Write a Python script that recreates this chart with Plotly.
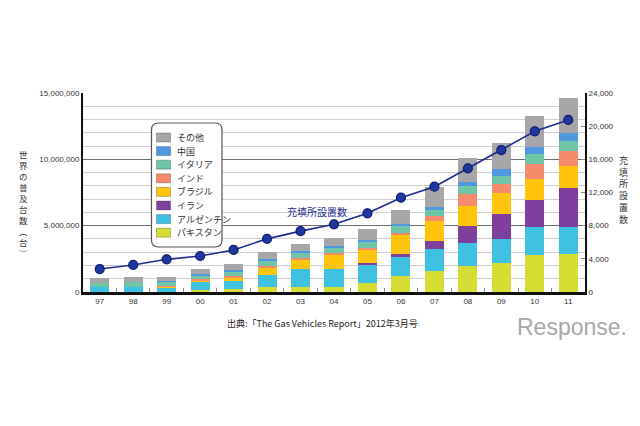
import plotly.graph_objects as go

# ---------------- data ----------------
years = ["97", "98", "99", "00", "01", "02", "03", "04", "05", "06", "07", "08", "09", "10", "11"]

pakistan  = [0, 0, 20000, 170000, 200000, 350000, 380000, 380000, 660000, 1230000, 1580000, 1980000, 2210000, 2810000, 2890000]
argentina = [350000, 380000, 350000, 600000, 650000, 930000, 1330000, 1330000, 1380000, 1390000, 1680000, 1710000, 1790000, 2090000, 1990000]
iran      = [0, 0, 0, 0, 0, 0, 0, 0, 130000, 270000, 600000, 1280000, 1860000, 2010000, 2940000]
brazil    = [0, 0, 50000, 130000, 180000, 500000, 700000, 1050000, 1000000, 1390000, 1510000, 1530000, 1630000, 1610000, 1680000]
india     = [0, 0, 20000, 80000, 170000, 170000, 170000, 200000, 170000, 200000, 350000, 880000, 630000, 1130000, 1130000]
italy     = [300000, 400000, 330000, 300000, 380000, 400000, 430000, 410000, 450000, 500000, 430000, 630000, 630000, 730000, 750000]
china     = [0, 0, 30000, 80000, 80000, 130000, 100000, 90000, 130000, 130000, 250000, 260000, 530000, 570000, 630000]
other     = [380000, 380000, 300000, 350000, 430000, 550000, 500000, 630000, 830000, 1050000, 1480000, 1850000, 1980000, 2310000, 2640000]

stations  = [2770, 3260, 3940, 4340, 5070, 6410, 7340, 8160, 9490, 11370, 12700, 14920, 17120, 19380, 20750]

series_names  = ["パキスタン", "アルゼンチン", "イラン", "ブラジル", "インド", "イタリア", "中国", "その他"]
series_values = [pakistan, argentina, iran, brazil, india, italy, china, other]
series_colors = ["#d5dc34", "#3fc2e2", "#7f3f9c", "#fec50c", "#f68a6c", "#6fc5a6", "#4d98de", "#a7a7a9"]

left_ticks  = [0, 5000000, 10000000, 15000000]
right_ticks = [0, 4000, 8000, 12000, 16000, 20000, 24000]

left_title  = ["世", "界", "の", "普", "及", "台", "数", "︵", "台", "︶"]
right_title = ["充", "填", "所", "設", "置", "数"]
line_label  = "充填所設置数"
caption     = "出典:「The Gas Vehicles Report」2012年3月号"

# ---------------- layout helpers ----------------
W, H = 640, 426
L, R, T, B = 83, 55, 93, 134
PW, PH = W - L - R, H - T - B
FONT = "Liberation Sans, Arial, Noto Sans CJK JP, sans-serif"
JFONT = "Noto Sans CJK JP, sans-serif"
NAVY = "#1d2b8f"


def px(x):
    return (x - L) / PW


def py(y):
    return (T + PH - y) / PH


fig = go.Figure()

for name, vals, col in zip(series_names, series_values, series_colors):
    fig.add_trace(go.Bar(
        x=years, y=vals, name=name,
        marker=dict(color=col, line=dict(width=0)),
        showlegend=False,
    ))

fig.add_trace(go.Scatter(
    x=years, y=stations, yaxis="y2", mode="lines+markers",
    line=dict(color=NAVY, width=1.6),
    marker=dict(size=9, color="#1f38a0", line=dict(color="#0d1b6b", width=1.2)),
    showlegend=False,
))

shapes = []
annotations = []

# rounded legend box
x0, x1, y0, y1, r = 151.5, 222.0, 123.0, 247.0, 7.0
path = (
    f"M {px(x0 + r)} {py(y0)} L {px(x1 - r)} {py(y0)} "
    f"Q {px(x1)} {py(y0)} {px(x1)} {py(y0 + r)} "
    f"L {px(x1)} {py(y1 - r)} Q {px(x1)} {py(y1)} {px(x1 - r)} {py(y1)} "
    f"L {px(x0 + r)} {py(y1)} Q {px(x0)} {py(y1)} {px(x0)} {py(y1 - r)} "
    f"L {px(x0)} {py(y0 + r)} Q {px(x0)} {py(y0)} {px(x0 + r)} {py(y0)} Z"
)
shapes.append(dict(type="path", xref="paper", yref="paper", path=path,
                   fillcolor="white", line=dict(color="#555555", width=1.2), layer="above"))

items = list(zip(series_names, series_colors))[::-1]
for i, (name, col) in enumerate(items):
    yc = 137.5 + i * 13.6
    shapes.append(dict(type="rect", xref="paper", yref="paper",
                       x0=px(156.5), x1=px(170.5), y0=py(yc - 4.5), y1=py(yc + 4.5),
                       fillcolor=col, line=dict(color="rgba(0,0,0,0.3)", width=0.8), layer="above"))
    annotations.append(dict(xref="paper", yref="paper", x=px(175), y=py(yc),
                            xanchor="left", yanchor="middle", showarrow=False,
                            text=name, font=dict(family=JFONT, size=9, color="#333333")))

# line label
annotations.append(dict(xref="paper", yref="paper", x=px(317), y=py(211),
                        xanchor="center", yanchor="middle", showarrow=False,
                        text=line_label, font=dict(family=JFONT, size=10, color=NAVY)))

# vertical axis titles (one stacked text each)
annotations.append(dict(xref="paper", yref="paper", x=px(23), y=py(203),
                        xanchor="center", yanchor="middle", showarrow=False, borderpad=0,
                        text="<br>".join(left_title),
                        font=dict(family=JFONT, size=8.5, color="#333333")))
annotations.append(dict(xref="paper", yref="paper", x=px(623), y=py(190),
                        xanchor="center", yanchor="middle", showarrow=False, borderpad=0,
                        text="<br>".join(right_title),
                        font=dict(family=JFONT, size=9, color="#333333")))

# caption and watermark
annotations.append(dict(xref="paper", yref="paper", x=px(322), y=py(323),
                        xanchor="center", yanchor="middle", showarrow=False,
                        text=caption, font=dict(family=JFONT, size=9, color="#222222")))
annotations.append(dict(xref="paper", yref="paper", x=px(572), y=py(327),
                        xanchor="center", yanchor="middle", showarrow=False,
                        text="Response.", font=dict(family="Liberation Sans, sans-serif", size=23, color="#a9a9a9")))

fig.update_layout(
    width=W, height=H,
    margin=dict(l=L, r=R, t=T, b=B, pad=0),
    paper_bgcolor="white", plot_bgcolor="white",
    barmode="stack", bargap=0.43,
    font=dict(family=FONT, size=8, color="#333333"),
    showlegend=False,
    xaxis=dict(
        type="category", range=[-0.5, 14.5],
        showline=True, linecolor="#111111", linewidth=2.5,
        ticks="inside", tickson="boundaries", ticklen=4, tickcolor="#888888", tickwidth=1,
        tickfont=dict(size=8, color="#333333"), showgrid=False, zeroline=False,
    ),
    yaxis=dict(
        range=[0, 15000000], tickvals=left_ticks, tickformat=",d",
        showline=True, linecolor="#111111", linewidth=2,
        showgrid=True, gridcolor="#6e6e6e", gridwidth=1.3,
        minor=dict(dtick=1000000, showgrid=True, gridcolor="#cfcfcf", gridwidth=1),
        ticks="", zeroline=False, tickfont=dict(size=8, color="#333333"),
    ),
    yaxis2=dict(
        overlaying="y", side="right", range=[0, 24000], tickvals=right_ticks, tickformat=",d",
        showline=True, linecolor="#111111", linewidth=2, showgrid=False, zeroline=False,
        ticks="inside", ticklen=4, tickcolor="#888888",
        tickfont=dict(size=8, color="#333333"),
    ),
    shapes=shapes,
    annotations=annotations,
)

fig.write_html("out.html")
